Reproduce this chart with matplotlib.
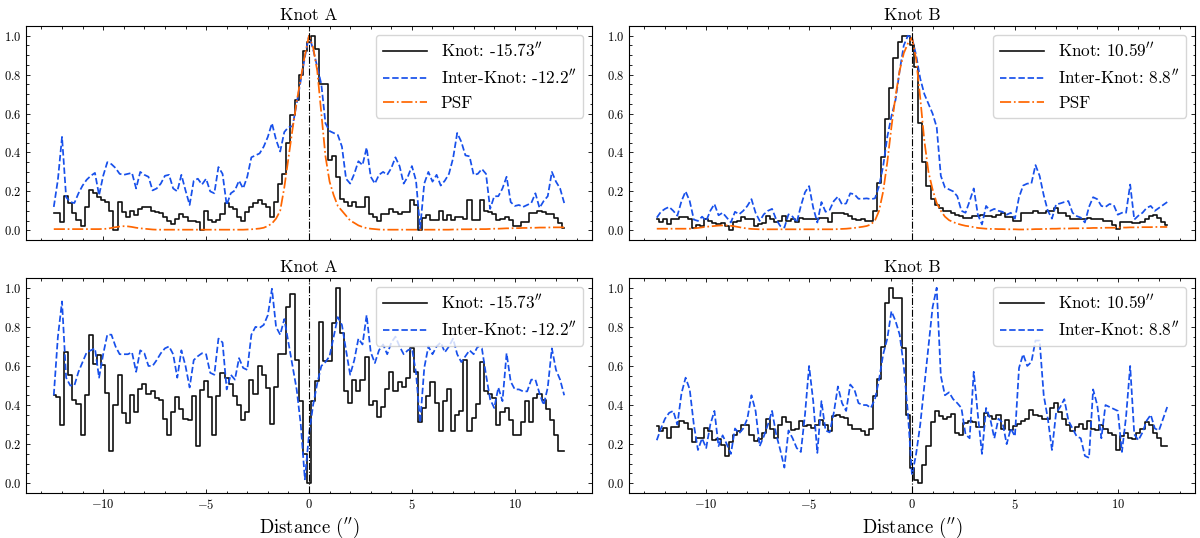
import numpy as np
import matplotlib
matplotlib.use("Agg")
import matplotlib.pyplot as plt
from matplotlib.ticker import MultipleLocator

plt.rcParams.update({
    "font.family": "serif",
    "font.serif": ["cmr10", "DejaVu Serif"],
    "mathtext.fontset": "cm",
    "axes.formatter.use_mathtext": True,
    "axes.linewidth": 0.8,
})

# distance grid (arcsec), 0.2" sampling
distance = np.round(np.linspace(-12.4, 12.4, 125), 2)

# ---- Knot A (top, with PSF) ----
knotA_top = [0.09, 0.09, 0.04, 0.175, 0.14, 0.09, 0.055, 0.02, 0.12, 0.205,
             0.19, 0.17, 0.155, 0.145, 0.1, 0.0, 0.145, 0.095, 0.07, 0.1,
             0.08, 0.11, 0.12, 0.12, 0.1, 0.095, 0.09, 0.07, 0.05, 0.03,
             0.06, 0.085, 0.07, 0.05, 0.048, 0.04, 0.0, 0.1, 0.055, 0.045,
             0.055, 0.085, 0.14, 0.12, 0.11, 0.07, 0.05, 0.095, 0.12, 0.14,
             0.155, 0.135, 0.12, 0.07, 0.145, 0.24, 0.29, 0.45, 0.59, 0.67,
             0.8, 0.92, 0.97, 1.0, 0.93, 0.75, 0.75, 0.36, 0.38, 0.275,
             0.16, 0.145, 0.125, 0.145, 0.12, 0.12, 0.17, 0.085, 0.07, 0.05,
             0.085, 0.085, 0.11, 0.095, 0.085, 0.095, 0.095, 0.155, 0.13, 0.0,
             0.065, 0.08, 0.055, 0.055, 0.1, 0.055, 0.08, 0.055, 0.07, 0.07,
             0.06, 0.155, 0.055, 0.055, 0.155, 0.1, 0.095, 0.085, 0.055, 0.06,
             0.07, 0.055, 0.02, 0.02, 0.045, 0.045, 0.09, 0.09, 0.1, 0.095,
             0.085, 0.085, 0.065, 0.035, 0.01]
interA_top = [0.12, 0.26, 0.48, 0.17, 0.145, 0.14, 0.19, 0.23, 0.26, 0.28,
              0.295, 0.18, 0.28, 0.35, 0.34, 0.32, 0.29, 0.285, 0.29, 0.295,
              0.215, 0.3, 0.285, 0.275, 0.205, 0.215, 0.24, 0.28, 0.285, 0.215,
              0.2, 0.285, 0.205, 0.13, 0.255, 0.265, 0.235, 0.265, 0.2, 0.19,
              0.325, 0.29, 0.13, 0.19, 0.205, 0.255, 0.215, 0.275, 0.375, 0.385,
              0.395, 0.43, 0.48, 0.55, 0.465, 0.405, 0.505, 0.53, 0.535, 0.65,
              0.77, 0.89, 1.0, 0.93, 0.84, 0.75, 0.55, 0.51, 0.5, 0.49,
              0.43, 0.265, 0.24, 0.29, 0.355, 0.335, 0.425, 0.275, 0.24, 0.285,
              0.3, 0.285, 0.32, 0.375, 0.33, 0.24, 0.275, 0.33, 0.255, 0.01,
              0.24, 0.3, 0.25, 0.285, 0.23, 0.255, 0.29, 0.37, 0.5, 0.455,
              0.385, 0.38, 0.285, 0.29, 0.315, 0.29, 0.11, 0.175, 0.175, 0.215,
              0.275, 0.145, 0.125, 0.13, 0.12, 0.13, 0.14, 0.19, 0.115, 0.15,
              0.175, 0.3, 0.25, 0.215, 0.14]
psfA = [0.006, 0.006, 0.006, 0.006, 0.006, 0.006, 0.006, 0.006, 0.006, 0.006,
        0.006, 0.006, 0.007, 0.008, 0.012, 0.016, 0.019, 0.021, 0.02, 0.017,
        0.013, 0.01, 0.008, 0.006, 0.004, 0.003, 0.003, 0.003, 0.003, 0.003,
        0.003, 0.003, 0.003, 0.003, 0.003, 0.003, 0.003, 0.003, 0.003, 0.003,
        0.003, 0.003, 0.003, 0.003, 0.003, 0.003, 0.003, 0.004, 0.005, 0.007,
        0.009, 0.013, 0.022, 0.035, 0.06, 0.1, 0.22, 0.37, 0.52, 0.66,
        0.78, 0.9, 1.0, 0.94, 0.82, 0.6, 0.38, 0.25, 0.18, 0.125,
        0.1, 0.075, 0.05, 0.038, 0.025, 0.017, 0.011, 0.008, 0.006, 0.004,
        0.003, 0.003, 0.003, 0.003, 0.003, 0.003, 0.003, 0.003, 0.003, 0.003,
        0.003, 0.003, 0.003, 0.003, 0.003, 0.003, 0.003, 0.004, 0.004, 0.005,
        0.005, 0.005, 0.006, 0.006, 0.006, 0.006, 0.007, 0.008, 0.008, 0.009,
        0.01, 0.01, 0.011, 0.011, 0.012, 0.012, 0.013, 0.013, 0.014, 0.014,
        0.014, 0.015, 0.015, 0.015, 0.015]

# ---- Knot B (top, with PSF) ----
knotB_top = [0.06, 0.04, 0.056, 0.03, 0.06, 0.06, 0.07, 0.07, 0.056, 0.014,
             0.026, 0.02, 0.056, 0.048, 0.036, 0.03, 0.036, 0.022, 0.0, 0.04,
             0.048, 0.068, 0.056, 0.056, 0.022, 0.03, 0.036, 0.073, 0.056, 0.04,
             0.048, 0.073, 0.048, 0.06, 0.043, 0.065, 0.06, 0.056, 0.06, 0.056,
             0.063, 0.063, 0.04, 0.087, 0.087, 0.087, 0.085, 0.073, 0.056, 0.053,
             0.056, 0.05, 0.05, 0.1, 0.245, 0.375, 0.57, 0.73, 0.885, 0.97,
             1.0, 1.0, 0.95, 0.84, 0.55, 0.35, 0.23, 0.16, 0.13, 0.115,
             0.1, 0.1, 0.09, 0.077, 0.073, 0.065, 0.065, 0.073, 0.073, 0.08,
             0.073, 0.073, 0.07, 0.077, 0.09, 0.07, 0.07, 0.048, 0.048, 0.09,
             0.09, 0.09, 0.1, 0.09, 0.09, 0.1, 0.1, 0.115, 0.09, 0.09,
             0.073, 0.06, 0.06, 0.06, 0.056, 0.065, 0.06, 0.06, 0.056, 0.05,
             0.048, 0.025, 0.005, 0.045, 0.04, 0.04, 0.036, 0.036, 0.043, 0.06,
             0.073, 0.08, 0.065, 0.04, 0.025]
interB_top = [0.065, 0.095, 0.11, 0.12, 0.1, 0.075, 0.15, 0.2, 0.15, 0.055,
              0.048, 0.07, 0.048, 0.1, 0.135, 0.077, 0.09, 0.065, 0.04, 0.095,
              0.082, 0.1, 0.125, 0.16, 0.09, 0.048, 0.082, 0.1, 0.11, 0.056,
              0.022, 0.014, 0.082, 0.07, 0.04, 0.125, 0.195, 0.227, 0.116, 0.04,
              0.145, 0.095, 0.105, 0.15, 0.173, 0.133, 0.138, 0.19, 0.185, 0.162,
              0.162, 0.164, 0.16, 0.164, 0.227, 0.33, 0.48, 0.586, 0.67, 0.82,
              0.95, 1.0, 0.99, 0.9, 0.78, 0.7, 0.65, 0.6, 0.53, 0.28,
              0.22, 0.21, 0.2, 0.175, 0.1, 0.09, 0.15, 0.215, 0.08, 0.03,
              0.125, 0.1, 0.11, 0.1, 0.095, 0.08, 0.09, 0.06, 0.17, 0.23,
              0.24, 0.24, 0.335, 0.28, 0.18, 0.1, 0.06, 0.133, 0.138, 0.145,
              0.15, 0.09, 0.073, 0.065, 0.04, 0.12, 0.17, 0.16, 0.125, 0.12,
              0.135, 0.13, 0.08, 0.09, 0.09, 0.235, 0.055, 0.075, 0.09, 0.115,
              0.125, 0.1, 0.115, 0.13, 0.145]
psfB = [0.008, 0.008, 0.008, 0.008, 0.008, 0.008, 0.008, 0.008, 0.008, 0.01,
        0.012, 0.015, 0.018, 0.02, 0.022, 0.024, 0.025, 0.025, 0.023, 0.02,
        0.016, 0.012, 0.009, 0.007, 0.006, 0.005, 0.005, 0.005, 0.005, 0.005,
        0.005, 0.005, 0.005, 0.005, 0.005, 0.005, 0.005, 0.005, 0.005, 0.005,
        0.005, 0.005, 0.005, 0.005, 0.006, 0.007, 0.008, 0.01, 0.012, 0.015,
        0.018, 0.022, 0.03, 0.05, 0.1, 0.2, 0.35, 0.53, 0.69, 0.82,
        0.91, 0.96, 0.99, 0.88, 0.68, 0.46, 0.3, 0.21, 0.14, 0.1,
        0.07, 0.052, 0.042, 0.034, 0.028, 0.023, 0.02, 0.016, 0.012, 0.01,
        0.008, 0.007, 0.007, 0.006, 0.006, 0.005, 0.005, 0.005, 0.004, 0.004,
        0.005, 0.005, 0.006, 0.006, 0.007, 0.007, 0.008, 0.008, 0.009, 0.009,
        0.009, 0.01, 0.01, 0.01, 0.011, 0.011, 0.012, 0.012, 0.012, 0.013,
        0.013, 0.013, 0.014, 0.014, 0.014, 0.015, 0.015, 0.015, 0.016, 0.016,
        0.016, 0.017, 0.017, 0.017, 0.017]

# ---- Knot A (bottom) ----
knotA_bot = [0.45, 0.44, 0.3, 0.67, 0.555, 0.425, 0.405, 0.245, 0.45, 0.76,
             0.61, 0.655, 0.605, 0.46, 0.165, 0.4, 0.555, 0.36, 0.31, 0.45,
             0.365, 0.48, 0.51, 0.455, 0.47, 0.435, 0.425, 0.33, 0.245, 0.365,
             0.44, 0.38, 0.33, 0.325, 0.445, 0.19, 0.475, 0.525, 0.44, 0.245,
             0.445, 0.565, 0.54, 0.51, 0.445, 0.4, 0.325, 0.365, 0.53, 0.455,
             0.6, 0.555, 0.485, 0.305, 0.49, 0.66, 0.66, 0.9, 0.97, 0.63,
             0.42, 0.15, 0.0, 0.42, 0.525, 0.825, 0.625, 0.625, 0.82, 1.0,
             0.77, 0.47, 0.41, 0.53, 0.47, 0.53, 0.645, 0.4, 0.42, 0.34,
             0.39, 0.48, 0.57, 0.47, 0.52, 0.49, 0.54, 0.69, 0.57, 0.315,
             0.385, 0.445, 0.52, 0.41, 0.265, 0.42, 0.48, 0.265, 0.35, 0.37,
             0.63, 0.265, 0.335, 0.405, 0.62, 0.47, 0.455, 0.435, 0.3, 0.365,
             0.385, 0.325, 0.245, 0.245, 0.315, 0.42, 0.315, 0.435, 0.455, 0.425,
             0.38, 0.325, 0.245, 0.165, 0.165]
interA_bot = [0.45, 0.75, 0.93, 0.54, 0.5, 0.5, 0.57, 0.62, 0.67, 0.68,
              0.69, 0.54, 0.66, 0.76, 0.76, 0.7, 0.66, 0.66, 0.66, 0.67,
              0.57, 0.68, 0.665, 0.6, 0.6, 0.63, 0.665, 0.69, 0.7, 0.66,
              0.54, 0.68, 0.6, 0.49, 0.63, 0.65, 0.665, 0.66, 0.565, 0.555,
              0.74, 0.72, 0.48, 0.555, 0.53, 0.64, 0.59, 0.58, 0.76, 0.8,
              0.795, 0.81, 0.86, 0.995, 0.8, 0.76, 0.84, 0.72, 0.6, 0.48,
              0.3, 0.02, 0.25, 0.4, 0.51, 0.6, 0.62, 0.65, 0.75, 0.85,
              0.81, 0.68, 0.555, 0.63, 0.74, 0.71, 0.86, 0.67, 0.615, 0.68,
              0.71, 0.66, 0.72, 0.75, 0.7, 0.66, 0.68, 0.69, 0.565, 0.31,
              0.59, 0.7, 0.66, 0.7, 0.72, 0.67, 0.7, 0.74, 0.66, 0.62,
              0.65, 0.68, 0.66, 0.7, 0.69, 0.555, 0.43, 0.385, 0.49, 0.42,
              0.665, 0.52, 0.48, 0.48, 0.47, 0.47, 0.53, 0.53, 0.46, 0.4,
              0.49, 0.69, 0.58, 0.53, 0.45]

# ---- Knot B (bottom) ----
knotB_bot = [0.295, 0.265, 0.285, 0.23, 0.29, 0.29, 0.32, 0.31, 0.28, 0.21,
             0.23, 0.23, 0.285, 0.265, 0.22, 0.225, 0.195, 0.14, 0.21, 0.245,
             0.265, 0.3, 0.3, 0.245, 0.215, 0.225, 0.255, 0.33, 0.28, 0.23,
             0.3, 0.34, 0.315, 0.27, 0.28, 0.32, 0.295, 0.3, 0.285, 0.3,
             0.325, 0.3, 0.265, 0.345, 0.35, 0.34, 0.335, 0.3, 0.28, 0.275,
             0.265, 0.245, 0.28, 0.445, 0.535, 0.695, 0.92, 1.0, 0.947, 0.947,
             0.69, 0.35, 0.08, 0.017, 0.0, 0.094, 0.19, 0.315, 0.37, 0.345,
             0.33, 0.34, 0.355, 0.255, 0.245, 0.31, 0.32, 0.315, 0.29, 0.29,
             0.36, 0.345, 0.33, 0.35, 0.28, 0.325, 0.27, 0.295, 0.305, 0.32,
             0.33, 0.375, 0.35, 0.345, 0.33, 0.33, 0.385, 0.41, 0.365, 0.33,
             0.3, 0.265, 0.29, 0.305, 0.28, 0.32, 0.28, 0.27, 0.3, 0.28,
             0.255, 0.245, 0.17, 0.24, 0.255, 0.23, 0.225, 0.255, 0.28, 0.315,
             0.3, 0.255, 0.23, 0.19, 0.19]
interB_bot = [0.22, 0.28, 0.33, 0.36, 0.37, 0.3, 0.46, 0.54, 0.48, 0.3,
              0.17, 0.23, 0.18, 0.3, 0.37, 0.19, 0.245, 0.2, 0.15, 0.28,
              0.255, 0.28, 0.33, 0.45, 0.37, 0.19, 0.24, 0.3, 0.37, 0.25,
              0.17, 0.08, 0.27, 0.23, 0.18, 0.16, 0.35, 0.6, 0.42, 0.155,
              0.42, 0.27, 0.26, 0.36, 0.495, 0.41, 0.37, 0.505, 0.48, 0.41,
              0.4, 0.4, 0.385, 0.43, 0.53, 0.66, 0.74, 0.88, 0.83, 0.76,
              0.6, 0.36, 0.04, 0.15, 0.3, 0.5, 0.7, 0.9, 1.0, 0.55,
              0.45, 0.465, 0.43, 0.41, 0.385, 0.25, 0.23, 0.57, 0.35, 0.15,
              0.385, 0.33, 0.23, 0.33, 0.31, 0.2, 0.28, 0.24, 0.59, 0.66,
              0.6, 0.62, 0.73, 0.73, 0.45, 0.33, 0.17, 0.36, 0.39, 0.43,
              0.32, 0.28, 0.24, 0.23, 0.14, 0.13, 0.48, 0.4, 0.23, 0.4,
              0.39, 0.38, 0.37, 0.16, 0.34, 0.6, 0.25, 0.22, 0.26, 0.32,
              0.35, 0.28, 0.27, 0.33, 0.39]

titles = ["Knot A", "Knot B"]
knot_labels = [r"Knot: -15.73$^{\prime\prime}$", r"Knot: 10.59$^{\prime\prime}$"]
inter_labels = [r"Inter-Knot: -12.2$^{\prime\prime}$", r"Inter-Knot: 8.8$^{\prime\prime}$"]
psf_label = "PSF"
xlabel = r"Distance ($^{\prime\prime}$)"

C_KNOT = "#111111"
C_INTER = "#1750eb"
C_PSF = "#ff6600"

W, H = 1200, 538
fig = plt.figure(figsize=(W / 100, H / 100), dpi=100)

def px_axes(x0, y0, x1, y1):
    return fig.add_axes([x0 / W, 1 - y1 / H, (x1 - x0) / W, (y1 - y0) / H])

axes = {
    (0, 0): px_axes(26, 26, 592, 240),
    (0, 1): px_axes(629, 26, 1195, 240),
    (1, 0): px_axes(26, 278, 592, 493),
    (1, 1): px_axes(629, 278, 1195, 493),
}

panels = {
    (0, 0): (knotA_top, interA_top, psfA),
    (0, 1): (knotB_top, interB_top, psfB),
    (1, 0): (knotA_bot, interA_bot, None),
    (1, 1): (knotB_bot, interB_bot, None),
}

for (r, c), ax in axes.items():
    knot, inter, psf = panels[(r, c)]
    ax.plot(distance, knot, drawstyle="steps-mid", color=C_KNOT, lw=1.2,
            label=knot_labels[c])
    ax.plot(distance, inter, ls="--", color=C_INTER, lw=1.25,
            label=inter_labels[c])
    if psf is not None:
        ax.plot(distance, psf, ls="-.", color=C_PSF, lw=1.25, label=psf_label)
    ax.axvline(0, color="k", ls="-.", lw=0.8)
    ax.set_xlim(-13.75, 13.75)
    ax.set_ylim(-0.05, 1.05)
    ax.xaxis.set_major_locator(MultipleLocator(5))
    ax.xaxis.set_minor_locator(MultipleLocator(1))
    ax.yaxis.set_major_locator(MultipleLocator(0.2))
    ax.yaxis.set_minor_locator(MultipleLocator(0.05))
    ax.tick_params(which="both", direction="in", top=True, right=True,
                   labelsize=9, width=0.6)
    ax.tick_params(which="major", length=3.2)
    ax.tick_params(which="minor", length=1.8)
    ax.set_title(titles[c], fontsize=12.5, pad=4)
    if r == 0:
        ax.tick_params(labelbottom=False)
    else:
        ax.set_xlabel(xlabel, fontsize=13.5, labelpad=3)
    ax.legend(loc="upper right", fontsize=12.3, handlelength=2.6,
              framealpha=0.8, edgecolor="0.8")

fig.savefig("out.png", dpi=100)
